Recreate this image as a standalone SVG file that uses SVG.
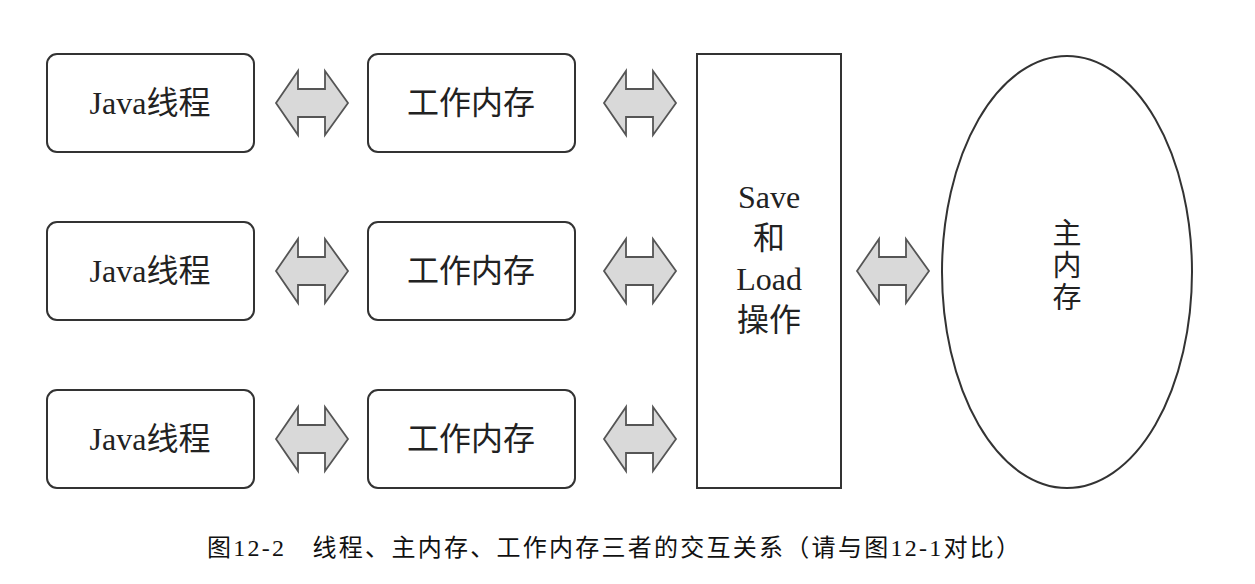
<svg xmlns="http://www.w3.org/2000/svg" width="1255" height="584" viewBox="0 0 1255 584">
<style>
.box{fill:#fff;stroke:#333;stroke-width:2}
.t{font-family:"Liberation Serif","Noto Sans CJK SC",serif;font-size:32px;fill:#222;text-anchor:middle}
.v{font-size:29px}
.cap{font-family:"Liberation Serif","Noto Sans CJK SC",serif;font-size:24px;fill:#111}
.arr{fill:#d9d9d9;stroke:#555;stroke-width:1.8;stroke-linejoin:miter}
</style>
<defs>
<path id="dbl" class="arr" d="M-36,0 L-14,-32 L-14,-14 L13,-14 L13,-32 L36,0 L13,32 L13,14 L-14,14 L-14,32 Z"/>
</defs>
<rect width="1255" height="584" fill="#fff"/>
<g id="thread1"><rect class="box" x="47" y="54" width="207" height="98" rx="10"/><text class="t" x="150" y="114">Java线程</text></g>
<g id="thread2"><rect class="box" x="47" y="222" width="207" height="98" rx="10"/><text class="t" x="150" y="282">Java线程</text></g>
<g id="thread3"><rect class="box" x="47" y="390" width="207" height="98" rx="10"/><text class="t" x="150" y="450">Java线程</text></g>
<g id="mem1"><rect class="box" x="368" y="54" width="207" height="98" rx="10"/><text class="t" x="471" y="114">工作内存</text></g>
<g id="mem2"><rect class="box" x="368" y="222" width="207" height="98" rx="10"/><text class="t" x="471" y="282">工作内存</text></g>
<g id="mem3"><rect class="box" x="368" y="390" width="207" height="98" rx="10"/><text class="t" x="471" y="450">工作内存</text></g>
<g id="saveload"><rect class="box" x="697" y="54" width="144" height="434"/>
<text class="t" x="769" y="208">Save</text><text class="t" x="769" y="249">和</text><text class="t" x="769" y="290">Load</text><text class="t" x="769" y="331">操作</text></g>
<g id="main"><ellipse class="box" cx="1067" cy="272" rx="125" ry="216"/>
<text class="t v" x="1067" y="244">主</text><text class="t v" x="1067" y="276">内</text><text class="t v" x="1067" y="308">存</text></g>
<g id="connectors">
<use href="#dbl" x="312" y="103"/><use href="#dbl" x="312" y="271"/><use href="#dbl" x="312" y="439"/>
<use href="#dbl" x="640" y="103"/><use href="#dbl" x="640" y="271"/><use href="#dbl" x="640" y="439"/>
<use href="#dbl" x="893" y="271"/>
</g>
<text class="cap" x="207" y="556" textLength="813" lengthAdjust="spacing">图12-2　线程、主内存、工作内存三者的交互关系（请与图12-1对比）</text>
</svg>
